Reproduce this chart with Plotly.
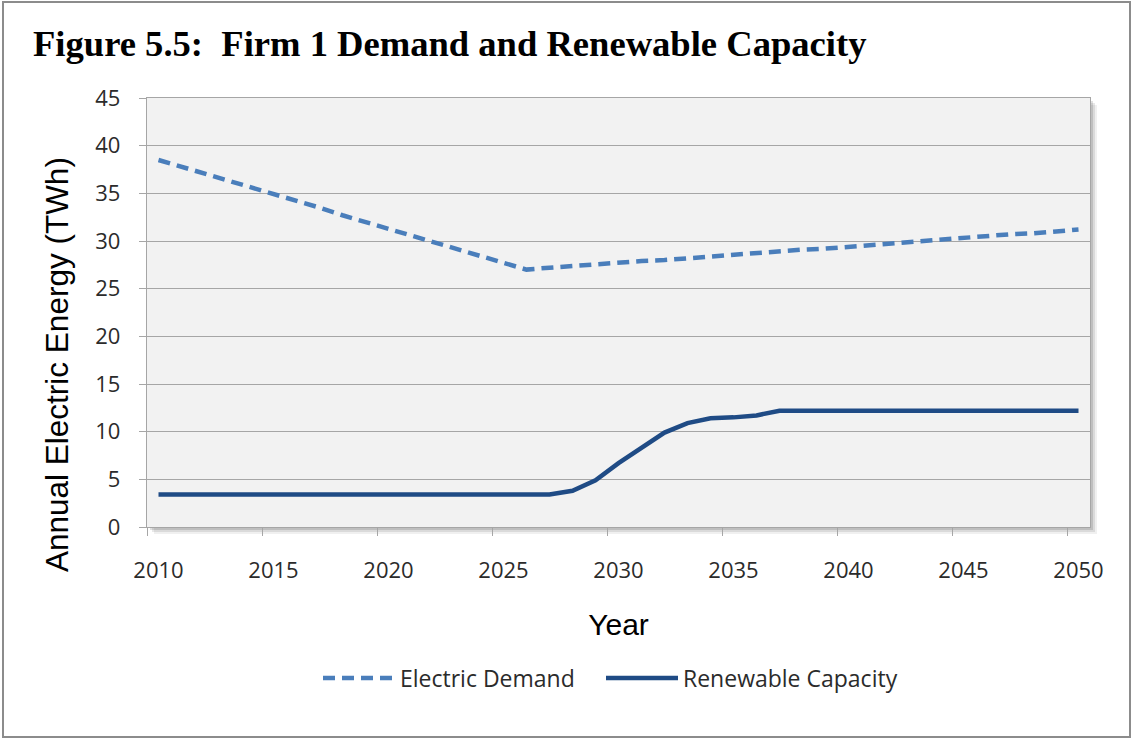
import plotly.graph_objects as go

# Annual series, 2010-2050
years = list(range(2010, 2051))

electric_demand = [
    38.5, 37.8, 37.1, 36.3, 35.6, 34.9, 34.2, 33.5, 32.7, 32.0,
    31.3, 30.6, 29.9, 29.1, 28.4, 27.7, 27.0, 27.2, 27.4, 27.5,
    27.7, 27.9, 28.0, 28.2, 28.4, 28.6, 28.7, 28.9, 29.1, 29.2,
    29.4, 29.6, 29.8, 29.9, 30.1, 30.3, 30.5, 30.7, 30.8, 31.0,
    31.2,
]

renewable_capacity = [
    3.4, 3.4, 3.4, 3.4, 3.4, 3.4, 3.4, 3.4, 3.4, 3.4,
    3.4, 3.4, 3.4, 3.4, 3.4, 3.4, 3.4, 3.4, 3.8, 4.9,
    6.7, 8.3, 9.9, 10.9, 11.4, 11.5, 11.7, 12.2, 12.2, 12.2,
    12.2, 12.2, 12.2, 12.2, 12.2, 12.2, 12.2, 12.2, 12.2, 12.2,
    12.2,
]

year_ticks = [2010, 2015, 2020, 2025, 2030, 2035, 2040, 2045, 2050]
y_ticks = [0, 5, 10, 15, 20, 25, 30, 35, 40, 45]

# Page and plot-area geometry (pixels)
W_PAGE, H_PAGE = 1133, 740
L, R, T, B = 147, 1090, 98, 527
PW, PH = R - L, B - T


def px_x(x):
    return (x - L) / PW


def px_y(y):
    return (B - y) / PH


TICK_FONT = dict(family="Open Sans, Lato, sans-serif", size=22, color="#2b2b2b")
LEGEND_FONT = dict(family="Open Sans, Lato, sans-serif", size=23, color="#2b2b2b")
GRID = "#A6A6A6"

fig = go.Figure()

fig.add_trace(go.Scatter(
    x=years, y=electric_demand, name="Electric Demand", mode="lines",
    line=dict(color="#4A7EBB", width=4.5, dash="12px,7px"),
    legend="legend",
))
fig.add_trace(go.Scatter(
    x=years, y=renewable_capacity, name="Renewable Capacity", mode="lines",
    line=dict(color="#1F4B85", width=4.5),
    legend="legend2",
))

shapes = []
# soft drop shadow on the right and bottom of the plot area
for off, alpha in [(7, 0.06), (5, 0.09), (3, 0.12)]:
    shapes.append(dict(
        type="rect", xref="paper", yref="paper", layer="below",
        x0=px_x(L + off), x1=px_x(R + off), y0=px_y(B + off), y1=px_y(T + off),
        fillcolor=f"rgba(0,0,0,{alpha})", line=dict(width=0),
    ))
# plot-area fill, laid over the shadow
shapes.append(dict(
    type="rect", xref="paper", yref="paper", layer="below",
    x0=0, x1=1, y0=0, y1=1,
    fillcolor="#F2F2F2", line=dict(width=0),
))
# outer frame of the figure
shapes.append(dict(
    type="rect", xref="paper", yref="paper", layer="above",
    x0=px_x(3), x1=px_x(1130), y0=px_y(737), y1=px_y(2),
    line=dict(color="#8C8C8C", width=2), fillcolor="rgba(0,0,0,0)",
))


def legend_box(left_px):
    return dict(
        orientation="h", xanchor="left", x=px_x(left_px),
        yanchor="middle", y=px_y(678),
        font=LEGEND_FONT, bgcolor="rgba(0,0,0,0)",
        itemwidth=72,
    )


fig.update_layout(
    width=W_PAGE, height=H_PAGE,
    margin=dict(l=L, r=W_PAGE - R, t=T, b=H_PAGE - B, autoexpand=False),
    paper_bgcolor="white",
    plot_bgcolor="rgba(0,0,0,0)",
    title=dict(
        text="<b>Figure 5.5:  Firm 1 Demand and Renewable Capacity</b>",
        font=dict(family="Liberation Serif, Times New Roman, serif", size=36.6, color="black"),
        xref="container", yref="container",
        x=33 / W_PAGE, xanchor="left",
        y=1 - 43 / H_PAGE, yanchor="middle",
    ),
    xaxis=dict(
        range=[2009.5, 2050.5],
        tickmode="array", tickvals=year_ticks,
        ticktext=[str(v) for v in year_ticks],
        ticks="", ticklabelstandoff=23,
        tickfont=TICK_FONT,
        showgrid=False, zeroline=False,
        showline=True, linecolor=GRID, linewidth=1.3, mirror=True,
        minor=dict(
            tickmode="array",
            tickvals=[v - 0.5 for v in year_ticks],
            ticks="outside", ticklen=8, tickcolor=GRID, tickwidth=1.3,
            showgrid=False,
        ),
        title=dict(
            text="Year",
            font=dict(family="Liberation Sans, Arial, sans-serif", size=30, color="black"),
            standoff=31,
        ),
    ),
    yaxis=dict(
        range=[0, 45],
        tickmode="array", tickvals=y_ticks,
        ticks="outside", ticklen=7, tickcolor=GRID, tickwidth=1.3,
        ticklabelstandoff=14,
        tickfont=TICK_FONT,
        showgrid=True, gridcolor=GRID, gridwidth=1.3,
        zeroline=False,
        showline=True, linecolor=GRID, linewidth=1.3, mirror=True,
    ),
    annotations=[dict(
        text="Annual Electric Energy (TWh)",
        textangle=-90,
        xref="paper", yref="paper",
        x=px_x(57), y=px_y(365), xanchor="center", yanchor="middle",
        showarrow=False,
        font=dict(family="Liberation Sans, Arial, sans-serif", size=31.5, color="black"),
    )],
    legend=legend_box(318),
    legend2=legend_box(601),
    shapes=shapes,
    showlegend=True,
)

fig.write_html("out.html")
